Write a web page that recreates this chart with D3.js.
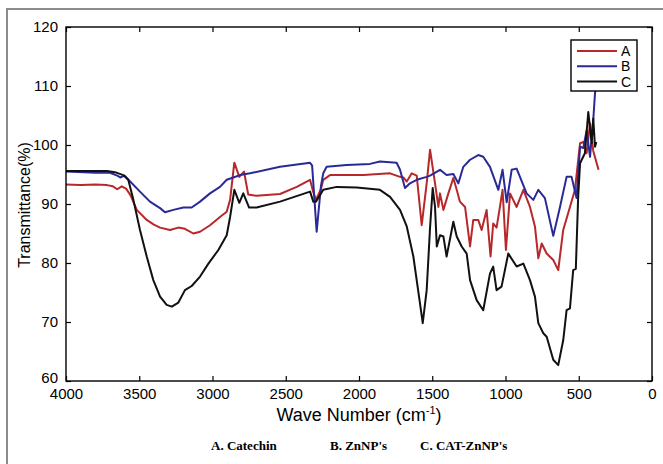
<!DOCTYPE html>
<html>
<head>
<meta charset="utf-8">
<script src="https://cdn.jsdelivr.net/npm/d3@7/dist/d3.min.js"></script>
<style>
body { margin: 0; background: #fff; }
</style>
</head>
<body>
<div id="ftir"></div>
<script>
// FTIR spectra, values
// A. Catechin
const catechinWn = [4000, 3900, 3800, 3720, 3680, 3650, 3620, 3590, 3560, 3517, 3449, 3400, 3358, 3290, 3233, 3188, 3131, 3085, 3017, 2949, 2903, 2880, 2851, 2817, 2785, 2756, 2700, 2539, 2425, 2334, 2312, 2294, 2260, 2244, 2198, 1970, 1788, 1720, 1697, 1674, 1640, 1606, 1572, 1538, 1515, 1481, 1458, 1447, 1424, 1390, 1356, 1333, 1311, 1276, 1242, 1220, 1186, 1163, 1129, 1102, 1084, 1061, 1038, 1020, 997, 969, 924, 878, 833, 799, 776, 753, 719, 674, 640, 606, 560, 526, 491, 469, 446, 423, 401, 365];
const catechinT = [93.3, 93.2, 93.3, 93.2, 93.0, 92.5, 93.0, 92.6, 91.5, 89.0, 87.3, 86.5, 86.0, 85.6, 86.0, 85.8, 85.0, 85.3, 86.4, 87.8, 88.7, 90.7, 97.0, 94.6, 95.5, 91.6, 91.4, 91.7, 92.9, 94.1, 92.0, 90.7, 92.5, 94.1, 94.9, 94.9, 95.2, 94.6, 94.5, 93.8, 95.2, 94.8, 86.4, 93.5, 99.2, 93.5, 89.5, 91.8, 89.0, 91.8, 94.4, 92.4, 90.4, 89.5, 82.8, 87.3, 87.3, 85.6, 89.0, 81.1, 86.7, 86.0, 89.5, 92.4, 82.2, 91.8, 89.5, 92.4, 89.5, 86.2, 80.8, 83.3, 81.6, 80.5, 78.8, 85.6, 89.5, 92.4, 100.3, 100.5, 98.6, 103.7, 99.0, 95.8];

// B. ZnNP's
const znnpWn = [4000, 3800, 3700, 3650, 3630, 3600, 3577, 3495, 3427, 3358, 3324, 3267, 3199, 3142, 3085, 3017, 2949, 2903, 2858, 2812, 2744, 2539, 2334, 2320, 2289, 2260, 2244, 2221, 2084, 1925, 1857, 1743, 1720, 1686, 1652, 1606, 1538, 1515, 1447, 1402, 1356, 1322, 1288, 1242, 1186, 1152, 1106, 1049, 1020, 992, 958, 924, 856, 810, 776, 731, 674, 628, 583, 549, 515, 491, 469, 446, 423, 401, 389, 382];
const znnpT = [95.5, 95.3, 95.3, 94.8, 94.5, 94.8, 94.2, 92.1, 90.4, 89.3, 88.6, 89.0, 89.4, 89.4, 90.4, 91.8, 92.9, 94.1, 94.5, 94.9, 95.2, 96.3, 97.0, 96.5, 85.3, 93.0, 95.2, 96.3, 96.6, 96.8, 97.2, 97.0, 95.8, 92.7, 93.5, 94.1, 94.6, 94.8, 95.8, 94.9, 95.1, 93.5, 96.3, 97.5, 98.3, 98.0, 96.3, 92.4, 95.8, 90.3, 95.8, 96.0, 91.8, 90.7, 92.4, 91.0, 84.6, 89.5, 94.6, 94.6, 91.0, 99.7, 99.5, 102.5, 98.0, 104.2, 108.8, 109.6];

// C. CAT-ZnNP's
const catZnnpWn = [4000, 3800, 3720, 3666, 3609, 3575, 3540, 3495, 3449, 3404, 3358, 3313, 3278, 3233, 3188, 3142, 3085, 3028, 2960, 2903, 2880, 2851, 2817, 2790, 2750, 2699, 2539, 2334, 2312, 2294, 2244, 2152, 2015, 1857, 1788, 1720, 1674, 1629, 1584, 1565, 1538, 1515, 1497, 1481, 1469, 1447, 1424, 1402, 1356, 1333, 1299, 1265, 1242, 1197, 1152, 1106, 1084, 1061, 1027, 981, 924, 878, 833, 799, 776, 742, 719, 674, 640, 606, 583, 560, 538, 520, 504, 491, 458, 435, 412, 401, 389, 380];
const catZnnpT = [95.6, 95.6, 95.6, 95.4, 94.9, 94.1, 90.7, 85.6, 81.1, 77.1, 74.3, 72.9, 72.6, 73.3, 75.4, 76.1, 77.7, 79.9, 82.2, 84.7, 87.8, 92.4, 90.2, 91.8, 89.4, 89.4, 90.4, 92.1, 90.4, 90.4, 92.4, 92.9, 92.8, 92.4, 91.2, 89.0, 86.2, 81.1, 73.2, 69.8, 75.4, 86.0, 92.7, 89.5, 82.8, 84.7, 84.5, 81.1, 87.0, 84.5, 82.8, 81.6, 77.1, 73.7, 72.0, 78.2, 79.4, 75.4, 76.0, 81.6, 79.4, 79.9, 77.1, 74.3, 69.8, 68.1, 67.5, 63.6, 62.7, 66.9, 72.0, 72.3, 78.8, 79.0, 91.2, 96.9, 98.6, 105.6, 100.3, 104.5, 99.7, 100.5];

const xTicks = [4000, 3500, 3000, 2500, 2000, 1500, 1000, 500, 0];
const yTicks = [60, 70, 80, 90, 100, 110, 120];
const legendLabels = ["A", "B", "C"];
const captionLabels = ["A. Catechin", "B. ZnNP's", "C. CAT-ZnNP's"];

function drawSpectrum() {
    const W = 663, H = 464;
    const margin = {top: 27, right: 11, bottom: 83, left: 66};
    const width = W - margin.left - margin.right;
    const height = H - margin.top - margin.bottom;

    const root = d3.select("#ftir")
        .append("svg")
        .attr("width", W)
        .attr("height", H)
        .style("font-family", "Arial, 'Liberation Sans', sans-serif");

    // grey frame around the whole figure
    root.append("rect")
        .attr("x", 7)
        .attr("y", 9)
        .attr("width", W + 20)
        .attr("height", H + 20)
        .attr("fill", "none")
        .attr("stroke", "#8c8c8c")
        .attr("stroke-width", 2);

    const svg = root.append("g")
        .attr("transform", `translate(${margin.left},${margin.top})`);

    const x = d3.scaleLinear().domain([4000, 0]).range([0, width]);
    const y = d3.scaleLinear().domain([60, 120]).range([height, 0]);

    const series = [
        {wn: catechinWn, t: catechinT, color: "#b8282a"},
        {wn: znnpWn, t: znnpT, color: "#2a2a96"},
        {wn: catZnnpWn, t: catZnnpT, color: "#111111"}
    ];

    const line = d3.line()
        .x(d => x(d[0]))
        .y(d => y(d[1]));

    // A, B, then C drawn on top
    series.forEach(s => {
        svg.append("path")
            .datum(d3.zip(s.wn, s.t))
            .attr("fill", "none")
            .attr("stroke", s.color)
            .attr("stroke-width", 2)
            .attr("stroke-linejoin", "round")
            .attr("d", line);
    });

    // axes with inward ticks (box style)
    svg.append("g")
        .attr("transform", `translate(0,${height})`)
        .call(d3.axisBottom(x).tickValues(xTicks).tickSize(-5).tickPadding(7).tickFormat(d3.format("d")));
    svg.append("g")
        .call(d3.axisTop(x).tickValues(xTicks).tickSize(-5).tickFormat(""));
    const yAxis = svg.append("g")
        .call(d3.axisLeft(y).tickValues(yTicks).tickSize(-5).tickPadding(8));
    svg.append("g")
        .attr("transform", `translate(${width},0)`)
        .call(d3.axisRight(y).tickValues(yTicks).tickSize(-5).tickFormat(""));

    svg.selectAll(".domain").remove();
    svg.selectAll(".tick line").attr("stroke", "#000").attr("stroke-width", 1.2);
    svg.selectAll(".tick text")
        .style("font-size", "15px")
        .style("font-family", "Arial, 'Liberation Sans', sans-serif")
        .attr("fill", "#000");

    // the lowest y label sits a little higher so it clears the 4000 label
    yAxis.selectAll(".tick text")
        .filter(d => d === 60)
        .attr("dy", "0.1em");

    svg.append("rect")
        .attr("width", width)
        .attr("height", height)
        .attr("fill", "none")
        .attr("stroke", "#000")
        .attr("stroke-width", 1.4);

    // legend
    const legend = svg.append("g")
        .attr("transform", "translate(505,13)");
    legend.append("rect")
        .attr("width", 66)
        .attr("height", 51)
        .attr("fill", "#fff")
        .attr("stroke", "#000")
        .attr("stroke-width", 1.4);
    legendLabels.forEach((lab, i) => {
        const ly = 11 + i * 15.3;
        legend.append("line")
            .attr("x1", 6).attr("x2", 46)
            .attr("y1", ly).attr("y2", ly)
            .attr("stroke", series[i].color)
            .attr("stroke-width", 2);
        legend.append("text")
            .attr("x", 50)
            .attr("y", ly + 5)
            .style("font-size", "14px")
            .text(lab);
    });

    // axis labels
    const xLabel = svg.append("text")
        .attr("text-anchor", "middle")
        .attr("x", width / 2)
        .attr("y", height + 40)
        .style("font-size", "18px");
    xLabel.append("tspan").text("Wave Number (cm");
    xLabel.append("tspan").attr("dy", -7).style("font-size", "11px").text("-1");
    xLabel.append("tspan").attr("dy", 7).text(")");

    svg.append("text")
        .attr("text-anchor", "middle")
        .attr("transform", "rotate(-90)")
        .attr("x", -178)
        .attr("y", -36)
        .style("font-size", "16px")
        .text("Transmittance(%)");

    // caption under the chart
    const captionX = [211, 330, 420];
    captionLabels.forEach((c, i) => {
        root.append("text")
            .attr("x", captionX[i])
            .attr("y", 450)
            .style("font-family", "'Liberation Serif', 'Times New Roman', serif")
            .style("font-weight", "bold")
            .style("font-size", "13px")
            .text(c);
    });
}

drawSpectrum();
</script>
</body>
</html>
